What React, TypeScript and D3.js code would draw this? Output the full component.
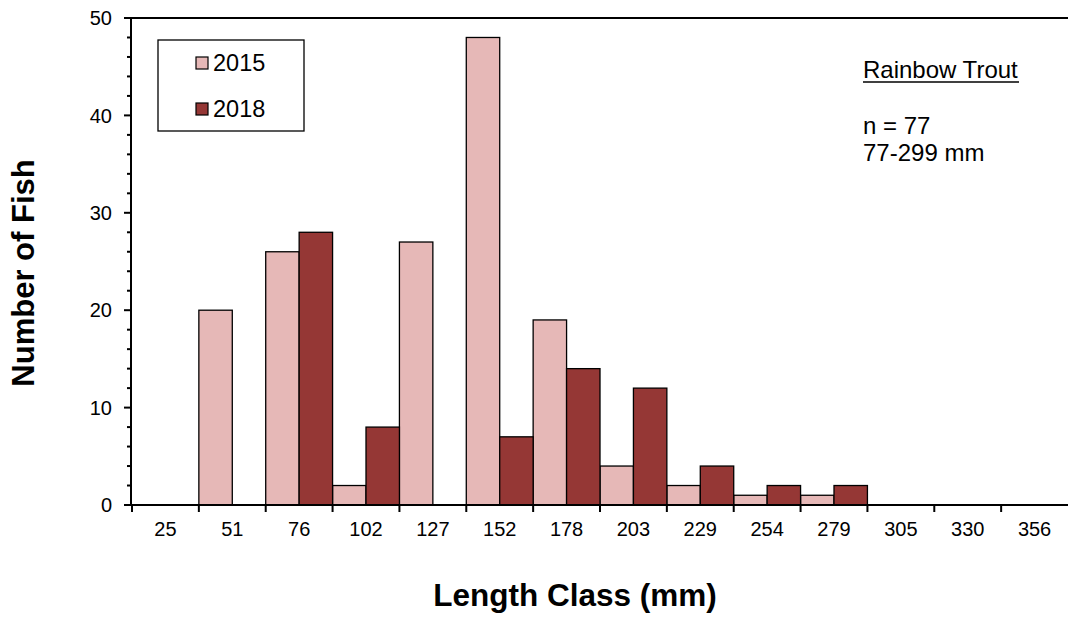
import React from "react";
import * as d3 from "d3";

const categories = ["25", "51", "76", "102", "127", "152", "178", "203", "229", "254", "279", "305", "330", "356"];
const seriesNames = ["2015", "2018"];
const values2015 = [0, 20, 26, 2, 27, 48, 19, 4, 2, 1, 1, 0, 0, 0];
const values2018 = [0, 0, 28, 8, 0, 7, 14, 12, 4, 2, 2, 0, 0, 0];
const yTicks = [0, 10, 20, 30, 40, 50];
const colors = ["#E6B8B7", "#953735"];

const W = 1068;
const H = 618;
const left = 132;
const right = 1068;
const top = 18;
const bottom = 505;

export default function App() {
  const x = d3.scaleBand<string>().domain(categories).range([left, right]).padding(0);
  const xs = d3.scaleBand<string>().domain(seriesNames).range([0, x.bandwidth()]).padding(0);
  const y = d3.scaleLinear().domain([0, 50]).range([bottom, top]);
  const minor = d3.range(0, 51, 2).filter((v) => v % 10 !== 0);
  const series = [values2015, values2018];
  const font = "'Liberation Sans', Arial, sans-serif";

  return (
    <svg width={W} height={H} style={{ position: "absolute", left: 0, top: 0 }} fontFamily={font}>
      {series.map((vals, si) =>
        vals.map((v, i) =>
          v > 0 ? (
            <rect
              key={`${si}-${i}`}
              x={x(categories[i])! + xs(seriesNames[si])!}
              y={y(v)}
              width={xs.bandwidth()}
              height={y(0) - y(v)}
              fill={colors[si]}
              stroke="#000"
              strokeWidth={1.3}
            />
          ) : null
        )
      )}
      {/* top border */}
      <line x1={left - 1} x2={right} y1={top} y2={top} stroke="#000" strokeWidth={2} />
      {/* y axis */}
      <line x1={left - 1} x2={left - 1} y1={top} y2={bottom} stroke="#000" strokeWidth={2} />
      {yTicks.map((t) => (
        <g key={t}>
          <line x1={left - 8} x2={left} y1={y(t)} y2={y(t)} stroke="#000" strokeWidth={2} />
          <text x={left - 20} y={y(t)} dy="0.36em" textAnchor="end" fontSize={20}>
            {t}
          </text>
        </g>
      ))}
      {minor.map((t) => (
        <line key={`m${t}`} x1={left - 5} x2={left} y1={y(t)} y2={y(t)} stroke="#000" strokeWidth={2} />
      ))}
      {/* x axis */}
      <line x1={left - 8} x2={right} y1={bottom} y2={bottom} stroke="#000" strokeWidth={2} />
      {categories.map((c) => (
        <g key={c}>
          <line x1={x(c)!} x2={x(c)!} y1={bottom} y2={bottom + 7} stroke="#000" strokeWidth={2} />
          <text x={x(c)! + x.bandwidth() / 2} y={536} textAnchor="middle" fontSize={20}>
            {c}
          </text>
        </g>
      ))}
      {/* axis titles */}
      <text x={575} y={606} textAnchor="middle" fontSize={31.5} fontWeight="bold">
        Length Class (mm)
      </text>
      <text transform={`translate(34,273) rotate(-90)`} textAnchor="middle" fontSize={31} fontWeight="bold">
        Number of Fish
      </text>
      {/* legend */}
      <rect x={158} y={40} width={146} height={91} fill="#fff" stroke="#000" strokeWidth={1.3} />
      {seriesNames.map((s, i) => (
        <g key={s}>
          <rect x={196} y={57 + i * 46} width={12} height={12} fill={colors[i]} stroke="#000" strokeWidth={1.2} />
          <text x={213} y={71 + i * 46} fontSize={23.5}>
            {s}
          </text>
        </g>
      ))}
      {/* annotation */}
      <text x={863} y={78} fontSize={24}>
        Rainbow Trout
      </text>
      <line x1={863} x2={1019} y1={82} y2={82} stroke="#000" strokeWidth={1.3} />
      <text x={863} y={134} fontSize={24}>
        n = 77
      </text>
      <text x={863} y={161} fontSize={24}>
        77-299 mm
      </text>
    </svg>
  );
}
